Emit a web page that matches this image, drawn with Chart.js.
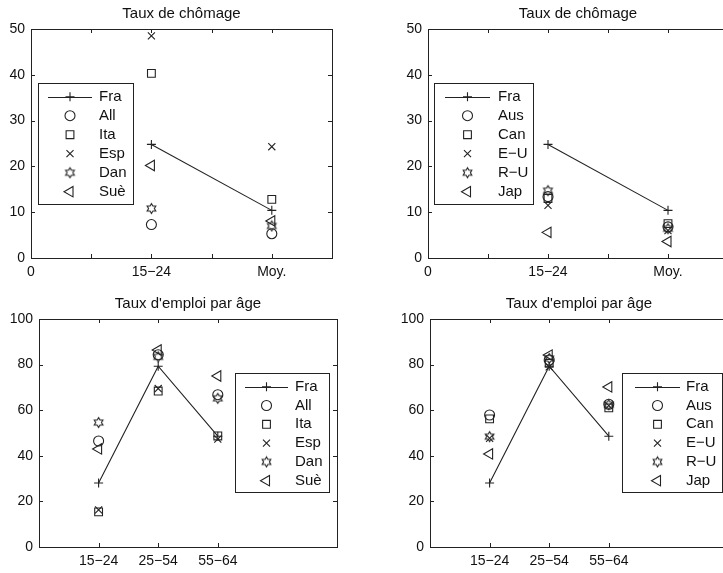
<!DOCTYPE html>
<html>
<head>
<meta charset="utf-8">
<script src="https://cdn.jsdelivr.net/npm/chart.js@4/dist/chart.umd.min.js"></script>
<style>
  html, body { margin: 0; padding: 0; background: #fff; overflow: hidden; }
  #fig { position: relative; width: 723px; height: 573px; overflow: hidden; background: #fff; }
  #fig canvas { position: absolute; }
</style>
</head>
<body>
<div id="fig">
  <canvas id="chomEur"></canvas>
  <canvas id="chomMonde"></canvas>
  <canvas id="emploiEur"></canvas>
  <canvas id="emploiMonde"></canvas>
</div>
<script>
// ---------------- données ----------------
// axe des x : chômage (15-24 ans, moyenne), emploi (trois tranches d'âge)
const chomTickPos = [0, 0.5, 1, 1.5, 2, 2.5];
const chomTickLabels = ['0', '', '15\u221224', '', 'Moy.', ''];
const emploiTickPos = [1, 2, 3];
const emploiTickLabels = ['15\u221224', '25\u221254', '55\u221264'];

// taux de chômage (%) : [15-24, moyenne]
const chomFra = [24.8, 10.4];
const chomAll = [7.3, 5.3];
const chomIta = [40.3, 12.8];
const chomEsp = [48.5, 24.3];
const chomDan = [10.8, 7.0];
const chomSue = [20.2, 8.1];
const chomAus = [13.4, 6.8];
const chomCan = [13.0, 7.5];
const chomEU = [11.5, 6.0];
const chomRU = [14.7, 6.4];
const chomJap = [5.6, 3.6];

// taux d'emploi (%) : [15-24, 25-54, 55-64]
const emploiFra = [28.1, 79.3, 48.6];
const emploiAll = [46.5, 84.3, 66.8];
const emploiIta = [15.4, 68.4, 48.7];
const emploiEsp = [16.3, 69.5, 47.3];
const emploiDan = [54.6, 83.4, 65.2];
const emploiSue = [43.0, 86.4, 75.0];
const emploiAus = [57.9, 82.0, 62.6];
const emploiCan = [56.2, 80.6, 61.0];
const emploiEU = [47.7, 79.0, 62.0];
const emploiRU = [48.4, 82.7, 62.4];
const emploiJap = [40.8, 84.2, 70.2];

const paysEur = ['Fra', 'All', 'Ita', 'Esp', 'Dan', 'Su\u00e8'];
const paysMonde = ['Fra', 'Aus', 'Can', 'E\u2212U', 'R\u2212U', 'Jap'];

// ---------------- style ----------------
const ink = '#222';
const fontFamily = "'Liberation Sans', Arial, Helvetica, sans-serif";
Chart.defaults.font.family = fontFamily;
Chart.defaults.color = '#111';

// étoile à six branches (marqueur 'h' de matlab)
function hexagram(r) {
    const size = Math.ceil(2 * r + 3);
    const c = document.createElement('canvas');
    c.width = c.height = size;
    const g = c.getContext('2d');
    const m = size / 2;
    g.strokeStyle = ink;
    g.lineWidth = 1.1;
    g.beginPath();
    for (let k = 0; k < 12; k++) {
        const a = (-90 + k * 30) * Math.PI / 180;
        const rr = k % 2 ? r / Math.sqrt(3) : r;
        const px = m + rr * Math.cos(a), py = m + rr * Math.sin(a);
        if (k == 0) g.moveTo(px, py); else g.lineTo(px, py);
    }
    g.closePath();
    g.stroke();
    return c;
}

const markers = [
    { pointStyle: 'cross', radius: 4.5, rotation: 0 },
    { pointStyle: 'circle', radius: 5, rotation: 0 },
    { pointStyle: 'rect', radius: 5.5, rotation: 0 },
    { pointStyle: 'crossRot', radius: 5, rotation: 0 },
    { pointStyle: hexagram(5), radius: 5, rotation: 0 },
    { pointStyle: 'triangle', radius: 6, rotation: -90 }
];

function buildDatasets(names, series) {
    return series.map(function (values, i) {
        const m = markers[i];
        return {
            label: names[i],
            data: values.map(function (v, k) { return { x: k + 1, y: v }; }),
            showLine: i == 0,
            borderColor: ink,
            borderWidth: 1.1,
            backgroundColor: 'rgba(0,0,0,0)',
            pointStyle: m.pointStyle,
            pointRadius: m.radius,
            pointRotation: m.rotation,
            pointBorderColor: ink,
            pointBackgroundColor: 'rgba(0,0,0,0)',
            pointBorderWidth: 1.1
        };
    });
}

// cadre + graduations vers l'intérieur, des deux côtés
const axesBox = {
    id: 'axesBox',
    afterDatasetsDraw(chart) {
        const ctx = chart.ctx, a = chart.chartArea;
        const tl = 4;
        ctx.save();
        ctx.strokeStyle = ink;
        ctx.lineWidth = 1;
        ctx.beginPath();
        chart.scales.x.ticks.forEach(function (t) {
            const px = Math.round(chart.scales.x.getPixelForValue(t.value)) + 0.5;
            ctx.moveTo(px, a.bottom); ctx.lineTo(px, a.bottom - tl);
            ctx.moveTo(px, a.top); ctx.lineTo(px, a.top + tl);
        });
        chart.scales.y.ticks.forEach(function (t) {
            const py = Math.round(chart.scales.y.getPixelForValue(t.value)) + 0.5;
            ctx.moveTo(a.left, py); ctx.lineTo(a.left + tl, py);
            ctx.moveTo(a.right, py); ctx.lineTo(a.right - tl, py);
        });
        ctx.stroke();
        ctx.strokeRect(Math.round(a.left) + 0.5, Math.round(a.top) + 0.5,
            Math.round(a.right - a.left), Math.round(a.bottom - a.top));
        ctx.restore();
    }
};

// légende encadrée dans la zone du graphique
const frameLegend = {
    id: 'frameLegend',
    afterDraw(chart, args, opts) {
        const ctx = chart.ctx, a = chart.chartArea;
        const x0 = Math.round(opts.side == 'left' ? a.left + opts.dx : a.right - opts.dx - opts.width);
        const y0 = Math.round(a.top + opts.dy);
        ctx.save();
        ctx.fillStyle = '#fff';
        ctx.fillRect(x0, y0, opts.width, opts.height);
        ctx.strokeStyle = ink;
        ctx.lineWidth = 1;
        ctx.strokeRect(x0 + 0.5, y0 + 0.5, opts.width, opts.height);
        ctx.font = opts.fontSize + 'px ' + fontFamily;
        ctx.textBaseline = 'middle';
        ctx.textAlign = 'left';
        chart.data.datasets.forEach(function (ds, i) {
            const y = y0 + opts.first + i * opts.step;
            const mx = x0 + (opts.lineFrom + opts.lineTo) / 2;
            ctx.strokeStyle = ink;
            ctx.lineWidth = 1.1;
            ctx.fillStyle = 'rgba(0,0,0,0)';
            if (ds.showLine) {
                ctx.beginPath();
                ctx.moveTo(x0 + opts.lineFrom, Math.round(y) + 0.5);
                ctx.lineTo(x0 + opts.lineTo, Math.round(y) + 0.5);
                ctx.stroke();
            }
            Chart.helpers.drawPoint(ctx, {
                pointStyle: ds.pointStyle,
                radius: ds.pointRadius,
                rotation: ds.pointRotation,
                borderWidth: 1.1
            }, mx, y);
            ctx.fillStyle = '#111';
            ctx.fillText(ds.label, x0 + opts.textX, y);
        });
        ctx.restore();
    }
};

function makeChart(id, place, cfg) {
    const canvas = document.getElementById(id);
    canvas.width = place.w;
    canvas.height = place.h;
    canvas.style.left = place.left + 'px';
    canvas.style.top = place.top + 'px';
    return new Chart(canvas, {
        type: 'scatter',
        data: { datasets: buildDatasets(cfg.names, cfg.series) },
        plugins: [axesBox, frameLegend],
        options: {
            responsive: false,
            animation: false,
            events: [],
            layout: { padding: { top: 0, left: 0, bottom: 0, right: place.padRight } },
            plugins: {
                legend: { display: false },
                tooltip: { enabled: false },
                title: {
                    display: true,
                    text: cfg.title,
                    fullSize: false,
                    color: '#111',
                    font: { size: 15, weight: 'normal', lineHeight: 1.2 },
                    padding: { top: 5, bottom: 6 }
                },
                frameLegend: cfg.legend
            },
            scales: {
                x: {
                    type: 'linear',
                    min: 0,
                    max: cfg.xMax,
                    afterBuildTicks: function (s) { s.ticks = cfg.xTicks.map(function (v) { return { value: v }; }); },
                    afterFit: function (s) { s.height = place.xAxisH; },
                    ticks: {
                        autoSkip: false,
                        maxRotation: 0,
                        padding: 6,
                        color: '#111',
                        font: { size: 14 },
                        callback: function (v, i) { return cfg.xLabels[i]; }
                    },
                    grid: { display: false, drawTicks: false },
                    border: { display: false }
                },
                y: {
                    min: 0,
                    max: cfg.yMax,
                    afterFit: function (s) { s.width = place.yAxisW; },
                    ticks: { stepSize: cfg.yStep, padding: 6, color: '#111', font: { size: 14 } },
                    grid: { display: false, drawTicks: false },
                    border: { display: false }
                }
            }
        }
    });
}

const legendLeft = { side: 'left', dx: 7, dy: 54, height: 121, first: 13.7, step: 19, fontSize: 15 };
const legendRight = { side: 'right', dx: 8, dy: 54, height: 119, first: 13.7, step: 18.8, fontSize: 15 };

makeChart('chomEur', { left: 0, top: 0, w: 362, h: 290, padRight: 30, yAxisW: 31, xAxisH: 32 }, {
    title: 'Taux de ch\u00f4mage',
    names: paysEur,
    series: [chomFra, chomAll, chomIta, chomEsp, chomDan, chomSue],
    xTicks: chomTickPos, xLabels: chomTickLabels, xMax: 2.5, yMax: 50, yStep: 10,
    legend: Object.assign({}, legendLeft, { width: 95, lineFrom: 10, lineTo: 54, textX: 61 })
});

makeChart('chomMonde', { left: 362, top: 0, w: 396, h: 290, padRight: 30, yAxisW: 66, xAxisH: 32 }, {
    title: 'Taux de ch\u00f4mage',
    names: paysMonde,
    series: [chomFra, chomAus, chomCan, chomEU, chomRU, chomJap],
    xTicks: chomTickPos, xLabels: chomTickLabels, xMax: 2.5, yMax: 50, yStep: 10,
    legend: Object.assign({}, legendLeft, { dx: 6, width: 99, lineFrom: 11, lineTo: 56, textX: 64 })
});

makeChart('emploiEur', { left: 0, top: 290, w: 362, h: 283, padRight: 25, yAxisW: 39, xAxisH: 26 }, {
    title: 'Taux d\'emploi par \u00e2ge',
    names: paysEur,
    series: [emploiFra, emploiAll, emploiIta, emploiEsp, emploiDan, emploiSue],
    xTicks: emploiTickPos, xLabels: emploiTickLabels, xMax: 5, yMax: 100, yStep: 20,
    legend: Object.assign({}, legendRight, { width: 94, lineFrom: 10, lineTo: 53, textX: 60 })
});

makeChart('emploiMonde', { left: 362, top: 290, w: 396, h: 283, padRight: 30, yAxisW: 68, xAxisH: 26 }, {
    title: 'Taux d\'emploi par \u00e2ge',
    names: paysMonde,
    series: [emploiFra, emploiAus, emploiCan, emploiEU, emploiRU, emploiJap],
    xTicks: emploiTickPos, xLabels: emploiTickLabels, xMax: 5, yMax: 100, yStep: 20,
    legend: Object.assign({}, legendRight, { dx: 6, width: 100, lineFrom: 13, lineTo: 58, textX: 64 })
});
</script>
</body>
</html>
